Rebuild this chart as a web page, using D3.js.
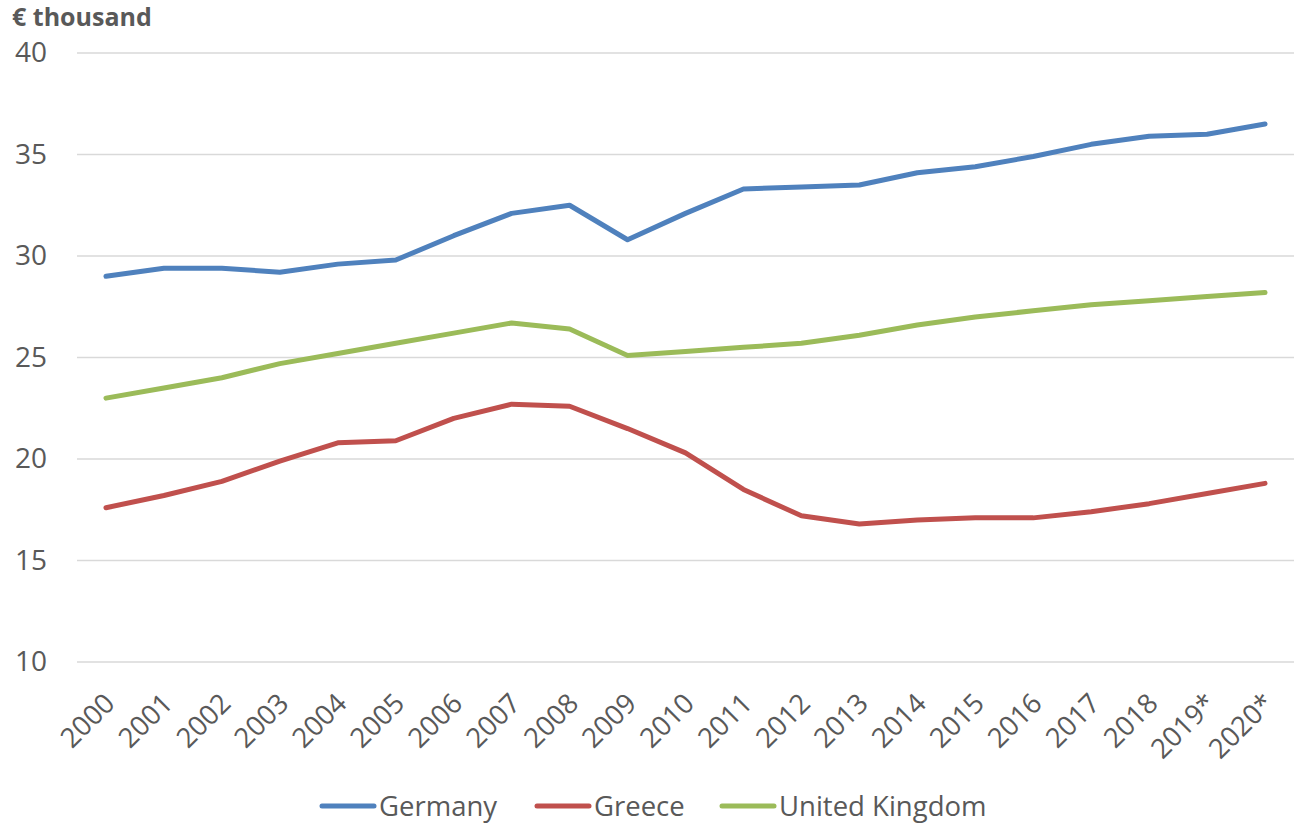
<!DOCTYPE html>
<html><head><meta charset="utf-8">
<script src="https://cdn.jsdelivr.net/npm/d3@7"></script>
<style>
html,body{margin:0;padding:0;background:#fff;}
svg{display:block;font-family:"Open Sans",sans-serif;}
</style></head>
<body>
<svg id="chart" width="1297" height="826"></svg>
<script>
const years = ["2000","2001","2002","2003","2004","2005","2006","2007","2008","2009","2010","2011","2012","2013","2014","2015","2016","2017","2018","2019*","2020*"];
const germany = [29.0,29.4,29.4,29.2,29.6,29.8,31.0,32.1,32.5,30.8,32.1,33.3,33.4,33.5,34.1,34.4,34.9,35.5,35.9,36.0,36.5];
const greece = [17.6,18.2,18.9,19.9,20.8,20.9,22.0,22.7,22.6,21.5,20.3,18.5,17.2,16.8,17.0,17.1,17.1,17.4,17.8,18.3,18.8];
const uk = [23.0,23.5,24.0,24.7,25.2,25.7,26.2,26.7,26.4,25.1,25.3,25.5,25.7,26.1,26.6,27.0,27.3,27.6,27.8,28.0,28.2];
const seriesNames = ["Germany","Greece","United Kingdom"];
const seriesColors = ["#4F81BD","#C0504D","#9BBB59"];
const yTicks = [10,15,20,25,30,35,40];
const yTitle = "€ thousand";

const series = [germany, greece, uk].map((v,i)=>({name:seriesNames[i], color:seriesColors[i], values:v}));

const svg = d3.select("#chart");
const textColor = "#595959";
const x = d3.scalePoint().domain(years).range([77,1294]).padding(0.5);
const y = d3.scaleLinear().domain([10,40]).range([662,53]);

// gridlines
svg.append("g").selectAll("line").data(yTicks).join("line")
  .attr("x1",77).attr("x2",1294)
  .attr("y1",d=>y(d)).attr("y2",d=>y(d))
  .attr("stroke","#d9d9d9").attr("stroke-width",1.5);

// y axis labels
const yAxis = svg.append("g").attr("transform","translate(47,0)")
  .call(d3.axisLeft(y).tickValues(yTicks).tickSize(0).tickPadding(0));
yAxis.select(".domain").remove();
yAxis.selectAll("text").attr("fill",textColor).style("font-size","28px").style("font-family","'Open Sans',sans-serif");

// x axis labels
const xAxis = svg.append("g").attr("transform","translate(0,662)")
  .call(d3.axisBottom(x).tickSize(0).tickPadding(0));
xAxis.select(".domain").remove();
xAxis.selectAll("text")
  .attr("fill",textColor).style("font-size","27.5px").style("font-family","'Open Sans',sans-serif")
  .attr("text-anchor","end").attr("dy",null).attr("y",0)
  .attr("transform","translate(10,43) rotate(-45)");

// lines
const line = d3.line().x((d,i)=>x(years[i])).y(d=>y(d));
svg.append("g").selectAll("path").data(series).join("path")
  .attr("d",d=>line(d.values))
  .attr("fill","none").attr("stroke",d=>d.color).attr("stroke-width",5)
  .attr("stroke-linejoin","round").attr("stroke-linecap","round");

// title
svg.append("text").attr("x",12).attr("y",26).text(yTitle)
  .attr("fill",textColor).style("font-size","25px").style("font-weight","bold");

// legend
const legendPos = [320,535,720];
const lg = svg.append("g").selectAll("g").data(series).join("g")
  .attr("transform",(d,i)=>`translate(${legendPos[i]},806)`);
lg.append("line").attr("x1",2).attr("x2",54).attr("y1",0).attr("y2",0)
  .attr("stroke",d=>d.color).attr("stroke-width",5).attr("stroke-linecap","round");
lg.append("text").attr("x",59).attr("y",10).text(d=>d.name)
  .attr("fill",textColor).style("font-size","27.5px");
</script>
</body></html>
